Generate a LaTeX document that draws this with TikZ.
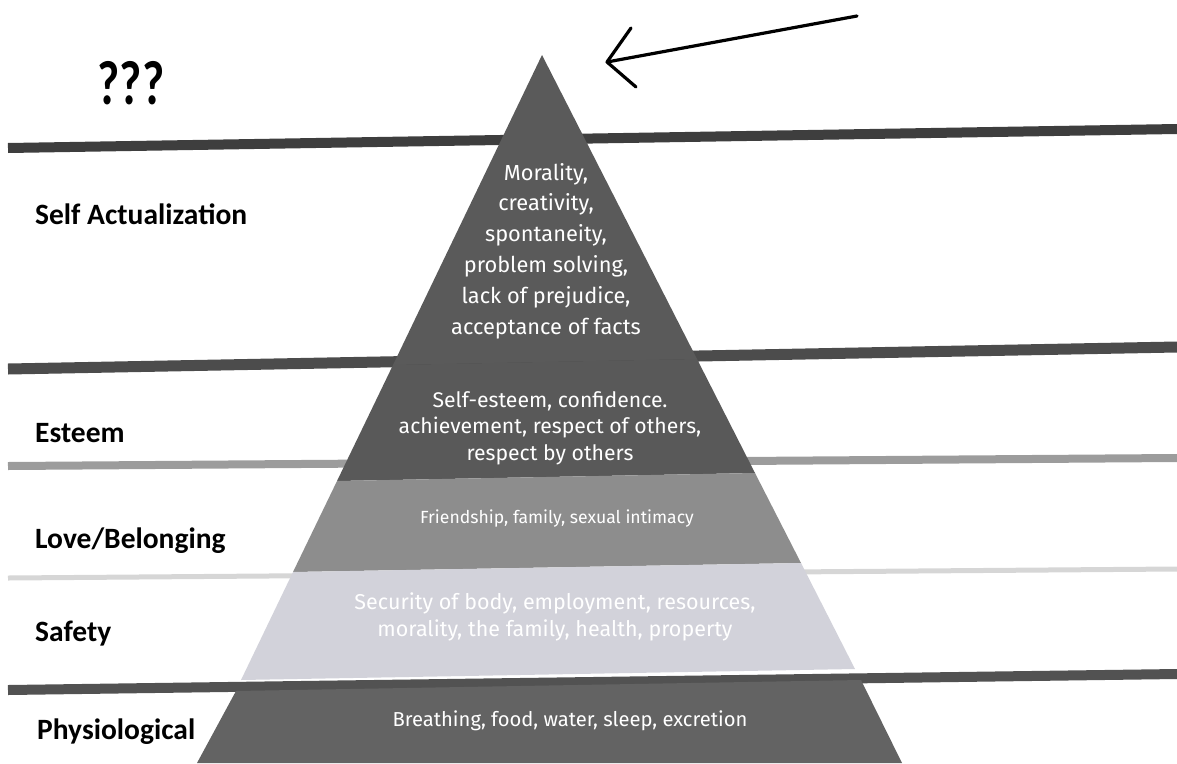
\documentclass[tikz,border=0pt]{standalone}
\usepackage{fontspec}
\newfontfamily\labelfont{Carlito}
\newfontfamily\innerfont{Fira Sans}
\definecolor{bandA}{HTML}{3E3E3E}
\definecolor{bandB}{HTML}{4C4C4C}
\definecolor{bandC}{HTML}{9C9C9C}
\definecolor{bandD}{HTML}{D6D6D6}
\definecolor{bandE}{HTML}{525252}
\definecolor{topc}{HTML}{5A5A5A}
\definecolor{estc}{HTML}{595959}
\definecolor{lovec}{HTML}{8D8D8D}
\definecolor{safec}{HTML}{D2D2DA}
\definecolor{physc}{HTML}{636363}
\begin{document}
\begin{tikzpicture}[x=1pt,y=-1pt,
  band/.style={line cap=butt},
  lvl/.style={font=\labelfont\bfseries\fontsize{29.5}{32}\selectfont, anchor=base west, inner sep=0pt},
  innertxt/.style={text=white, align=center, inner sep=0pt},
  arrowpen/.style={line width=3.2pt, line cap=round, line join=round, black}
]
\useasboundingbox (0,0) rectangle (1177,763);
\clip (0,0) rectangle (1177,763);

% horizontal bands
\draw[band, line width=10pt, bandA] (8,148) -- (1177,129);
\draw[band, line width=11pt, bandB] (8,369) -- (1177,347);
\draw[band, line width=8pt, bandC] (8,466) -- (1177,458);
\draw[band, line width=5pt, bandD] (8,578) -- (1177,569);
\draw[band, line width=10pt, bandE] (8,690) -- (1177,674);

% pyramid layers
\fill[topc] (542,55) -- (697,359) -- (393,365) -- cycle;
\fill[estc] (393,365) -- (697,359) -- (755,473) -- (337,481) -- cycle;
\fill[lovec] (337,481) -- (755,473) -- (801,563) -- (293,572) -- cycle;
\fill[safec] (293,572) -- (801,563) -- (855,669) -- (241,680) -- cycle;
\fill[physc] (236,691) -- (861,680) -- (902,763) -- (197,763) -- cycle;

% texts inside
\node[innertxt, font=\innerfont\fontsize{21.8}{30.8}\selectfont] (tsa) at (546,251)
  {Morality,\\creativity,\\spontaneity,\\problem solving,\\lack of prejudice,\\acceptance of facts};
\node[innertxt, font=\innerfont\fontsize{21.2}{26.5}\selectfont] (test) at (550,428)
  {Self-esteem, confidence.\\achievement, respect of others,\\respect by others};
\node[innertxt, font=\innerfont\fontsize{17.6}{20}\selectfont] (tlove) at (557,519)
  {Friendship, family, sexual intimacy};
\node[innertxt, font=\innerfont\fontsize{21.5}{27}\selectfont] (tsafe) at (555,617)
  {Security of body, employment, resources,\\morality, the family, health, property};
\node[innertxt, font=\innerfont\fontsize{20.2}{22}\selectfont] (tphys) at (570,721)
  {Breathing, food, water, sleep, excretion};

% level labels
\node[lvl] (lsa) at (35,224) {Self Actualization};
\node[lvl] (lest) at (35,442) {Esteem};
\node[lvl] (llove) at (35,548) {Love/Belonging};
\node[lvl] (lsafe) at (35,641) {Safety};
\node[lvl] (lphys) at (37,739) {Physiological};

% question marks
\node[inner sep=0pt, font=\labelfont\bfseries\fontsize{48}{48}\selectfont] (qq) at (131,83)
  {\scalebox{1}[1.3]{???}};

% hand drawn arrow
\coordinate (atail) at (857,16);
\coordinate (atip) at (607,62);
\coordinate (ah1) at (631,28);
\coordinate (ah2) at (636,87);
\draw[arrowpen] (atail) -- (atip);
\draw[arrowpen] (ah1) -- (atip) -- (ah2);
\end{tikzpicture}
\end{document}
